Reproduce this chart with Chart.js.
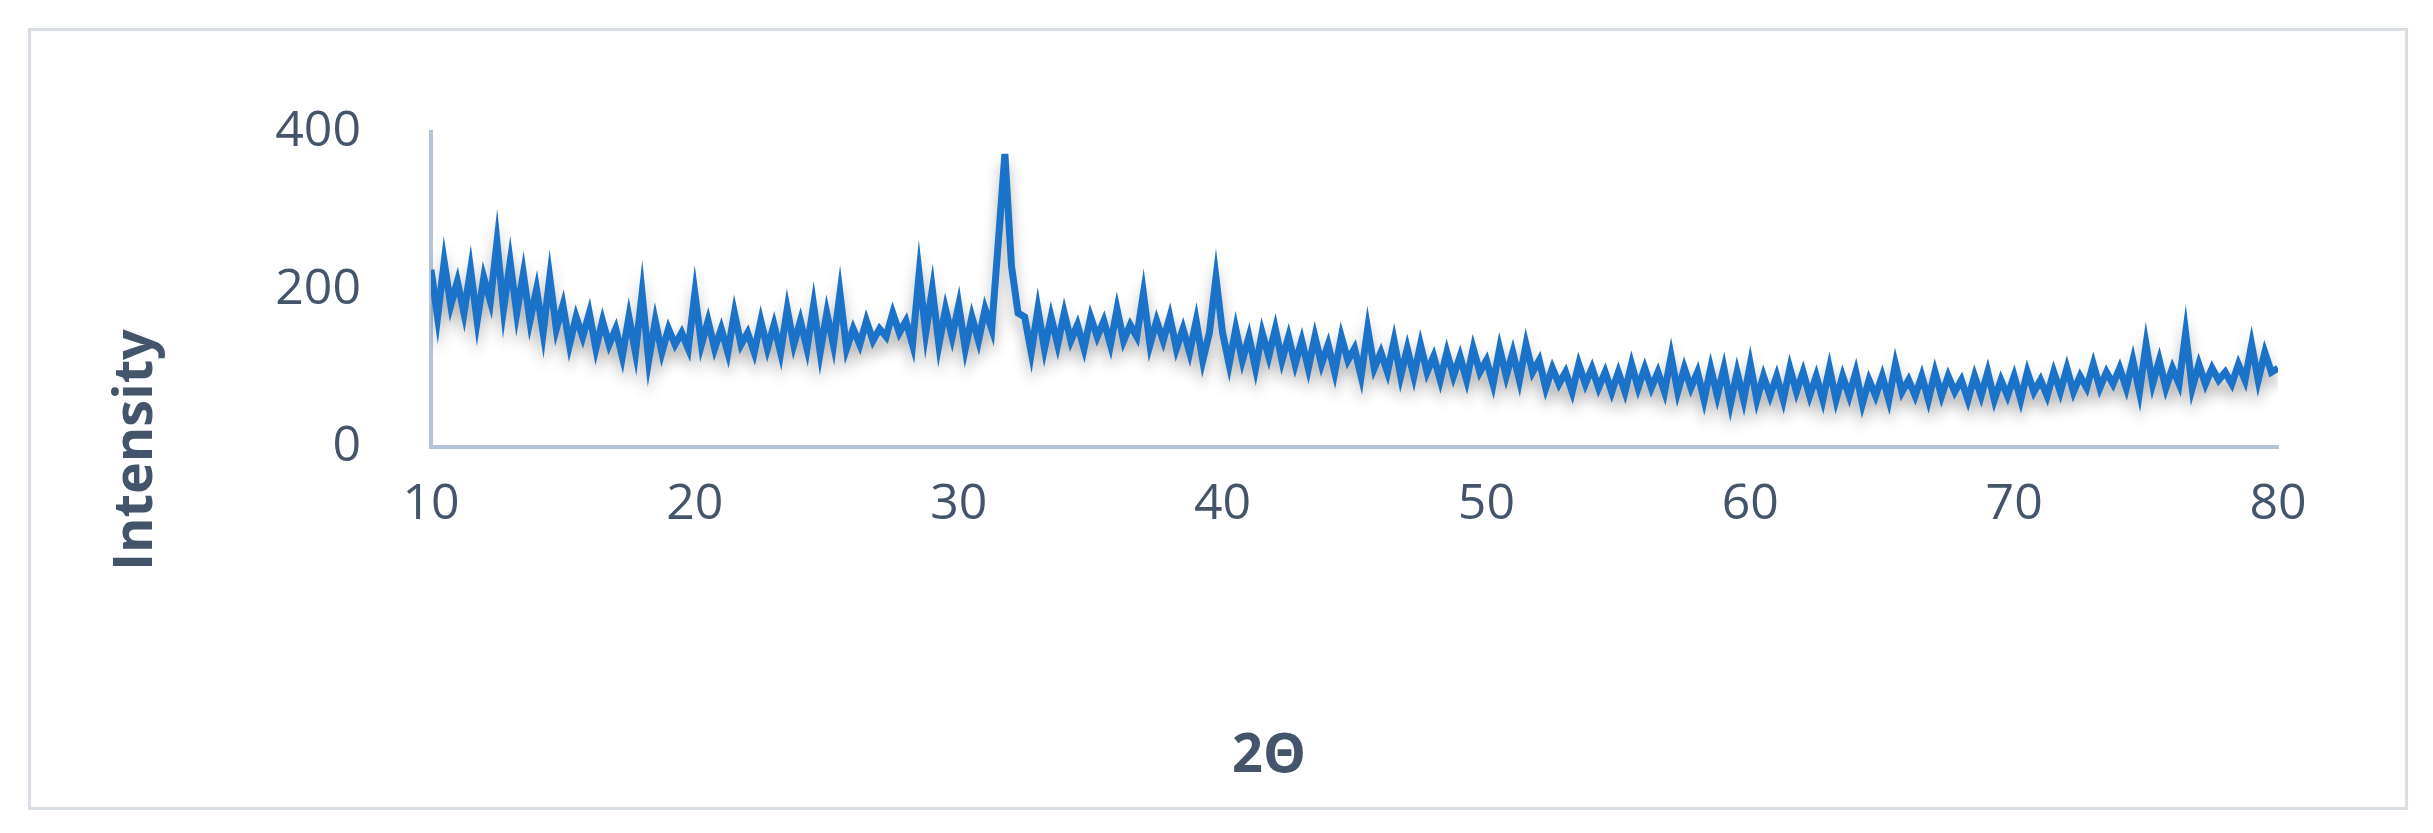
<!DOCTYPE html>
<html>
<head>
<meta charset="utf-8">
<script src="https://cdn.jsdelivr.net/npm/chart.js@4/dist/chart.umd.min.js"></script>
<style>
  html, body { margin: 0; padding: 0; background: #fff; }
  #frame { position: absolute; left: 28px; top: 28px; width: 2374px; height: 776px; border: 3px solid #d9dee6; }
  #wrap { position: absolute; left: 0; top: 0; width: 2433px; height: 833px; }
</style>
</head>
<body>
<div id="frame"></div>
<div id="wrap"><canvas id="xrd"></canvas></div>
<script>
// 2θ sampling (degrees)
const thetaStart = 10;
const thetaStep = 0.25;

// Intensity, four samples per degree (10 .. 80)
const intensity = [
  225,165,235,180, 210,170,225,160, 215,185,260,175, 235,170,220,160, 200,145,215,150,
  180,130,165,140, 170,125,160,130, 150,115,165,120, 195,110,160,120, 150,130,145,125,
  195,130,160,125, 150,120,170,130, 145,120,160,125, 155,120,175,130, 160,125,180,120,
  170,130,195,125, 150,130,160,135, 150,140,170,145, 160,130,220,145, 200,130,175,140,
  180,125,165,135, 175,150,260,372, 230,170,165,120, 175,125,165,130, 170,135,155,125,
  165,140,160,130, 175,135,155,140, 195,130,160,135, 165,125,150,120, 160,110,145,215,
  145,105,150,110, 140,100,145,115, 150,110,140,105, 135,100,140,105, 130,95,140,110,
  125,90,150,100, 120,95,135,90, 125,90,130,95, 115,85,120,90, 115,85,125,95,
  110,80,125,90, 120,85,130,95, 110,75,100,80, 95,70,105,80, 100,75,95,70,
  95,70,105,75, 100,75,95,70, 115,70,100,75, 95,60,100,65, 100,55,95,60,
  105,60,90,65, 90,60,100,70, 95,65,90,60, 100,60,90,65, 95,55,85,65,
  90,60,105,70, 85,65,90,60, 95,65,90,70, 85,60,90,65, 95,60,85,65,
  90,60,95,70, 85,65,95,70, 100,70,90,75, 105,75,95,80, 100,75,110,70,
  130,80,110,75, 100,80,145,75, 105,80,100,85, 95,80,105,85, 130,85,120,95,
  100
];

const xTicks = [10, 20, 30, 40, 50, 60, 70, 80];
const yTicks = [0, 200, 400];
const xTitle = '2Θ';
const yTitle = 'Intensity';

const points = intensity.map((v, i) => ({ x: thetaStart + i * thetaStep, y: v }));

const textColor = '#44546a';
const axisColor = '#b4c4d6';

// soft drop shadow under the trace, like the office-style original
const shadowPlugin = {
  id: 'lineShadow',
  beforeDatasetDraw(chart) {
    const ctx = chart.ctx;
    ctx.save();
    ctx.shadowColor = 'rgba(0,0,0,0.3)';
    ctx.shadowBlur = 14;
    ctx.shadowOffsetY = 10;
  },
  afterDatasetDraw(chart) {
    chart.ctx.restore();
  }
};

// axis titles sit off-centre in the original, so place them by hand
const titlePlugin = {
  id: 'axisTitles',
  afterDraw(chart) {
    const ctx = chart.ctx;
    ctx.save();
    ctx.fillStyle = textColor;
    ctx.font = 'bold 54px "Open Sans"';
    ctx.textAlign = 'center';
    ctx.textBaseline = 'middle';
    ctx.fillText(xTitle, 1269, 757);
    ctx.translate(137, 450);
    ctx.rotate(-Math.PI / 2);
    ctx.fillText(yTitle, 0, 0);
    ctx.restore();
  }
};

new Chart(document.getElementById('xrd'), {
  type: 'line',
  data: {
    datasets: [{
      data: points,
      borderColor: '#1a73c9',
      borderWidth: 7,
      pointRadius: 0,
      tension: 0,
      fill: false
    }]
  },
  plugins: [shadowPlugin, titlePlugin],
  options: {
    responsive: true,
    maintainAspectRatio: false,
    devicePixelRatio: 1,
    animation: false,
    layout: { padding: { left: 110, right: 155, top: 132, bottom: 50 } },
    plugins: { legend: { display: false }, tooltip: { enabled: false } },
    scales: {
      x: {
        type: 'linear',
        min: 10,
        max: 80,
        afterBuildTicks: s => { s.ticks = xTicks.map(v => ({ value: v })); },
        afterFit: s => { s.height = 833 - 50 - 447; },
        grid: { display: false, drawTicks: false },
        border: { display: true, color: axisColor, width: 4 },
        ticks: { color: textColor, font: { family: 'Open Sans', size: 50 }, padding: 28 }
      },
      y: {
        min: 0,
        max: 400,
        afterBuildTicks: s => { s.ticks = yTicks.map(v => ({ value: v })); },
        afterFit: s => { s.width = 431 - 110; },
        grid: { display: false, drawTicks: false },
        border: { display: true, color: axisColor, width: 4 },
        ticks: { color: textColor, font: { family: 'Open Sans', size: 50 }, padding: 70 }
      }
    }
  }
});
</script>
</body>
</html>
